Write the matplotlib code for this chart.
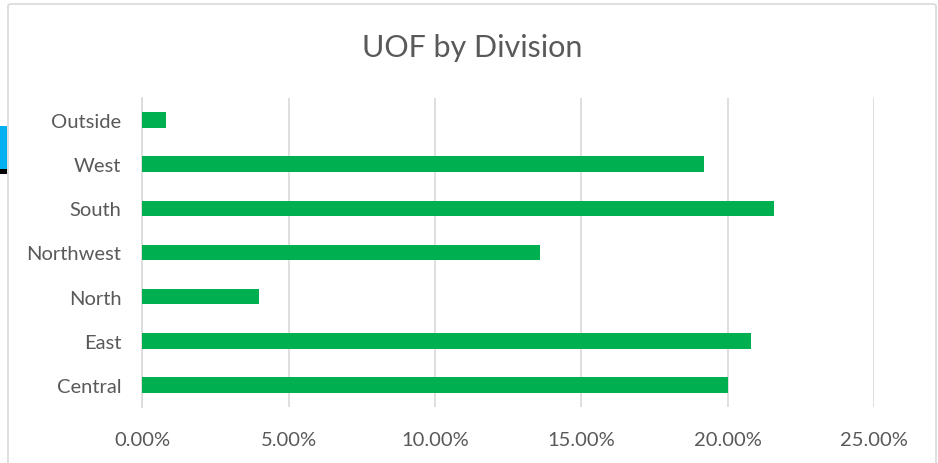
import matplotlib.pyplot as plt
from matplotlib.patches import FancyBboxPatch, Rectangle
from matplotlib.ticker import PercentFormatter

# values (share of UOF, in %)
divisions = ["Central", "East", "North", "Northwest", "South", "West", "Outside"]
share = [20.0, 20.8, 4.0, 13.6, 21.6, 19.2, 0.8]
x_ticks = [0, 5, 10, 15, 20, 25]

bar_color = "#00B050"
text_color = "#595959"
grid_color = "#D9D9D9"

plt.rcParams["font.family"] = ["Lato", "DejaVu Sans"]

fig = plt.figure(figsize=(9.38, 4.64), dpi=100)

# chart frame (excel-style light border)
frame = FancyBboxPatch((8 / 938, -0.05), 928 / 938, (464 - 5) / 464 + 0.05,
                       boxstyle="round,pad=0,rounding_size=0.004",
                       transform=fig.transFigure, facecolor="none",
                       edgecolor=grid_color, linewidth=1.2, zorder=-10)
fig.patches.append(frame)

# leftover bits of the screenshot on the left edge
fig.patches.append(Rectangle((0, (464 - 170) / 464), 7 / 938, 43 / 464,
                             transform=fig.transFigure, facecolor="#00B0F0",
                             edgecolor="none", zorder=-10))
fig.patches.append(Rectangle((0, (464 - 175) / 464), 7 / 938, 5 / 464,
                             transform=fig.transFigure, facecolor="black",
                             edgecolor="none", zorder=-10))

ax = fig.add_axes([142.2 / 938, (464 - 408) / 464, (874 - 142.2) / 938, (408 - 99) / 464])
ax.set_facecolor("none")
ax.barh(divisions, share, height=0.35, color=bar_color, zorder=3)

ax.set_xlim(0, 25)
ax.set_ylim(-0.5, len(divisions) - 0.5)
ax.set_xticks(x_ticks)
ax.xaxis.set_major_formatter(PercentFormatter(decimals=2))
ax.grid(axis="x", color=grid_color, linewidth=1.2, zorder=0)

for side in ["top", "right", "bottom"]:
    ax.spines[side].set_visible(False)
ax.spines["left"].set_color(grid_color)
ax.spines["left"].set_linewidth(1.2)

ax.tick_params(axis="both", length=0, labelsize=14.5, labelcolor=text_color)
ax.tick_params(axis="x", pad=17)
ax.tick_params(axis="y", pad=15)

fig.text(472 / 938, (464 - 48) / 464, "UOF by Division", ha="center", va="center",
         fontsize=22, color=text_color)

fig.savefig("out.png", dpi=100, facecolor="white")
